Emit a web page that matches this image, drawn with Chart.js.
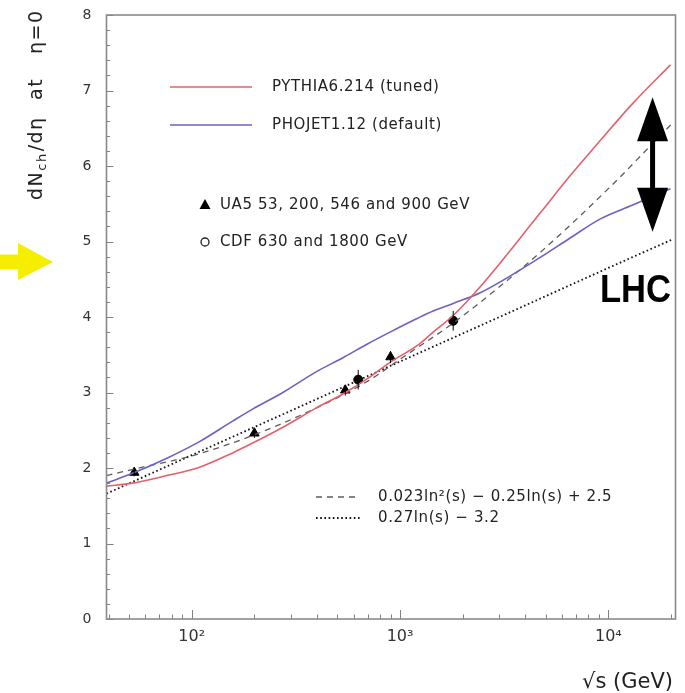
<!DOCTYPE html>
<html>
<head>
<meta charset="utf-8">
<script src="https://cdn.jsdelivr.net/npm/chart.js@4.4.1/dist/chart.umd.min.js"></script>
<style>
  html, body { margin: 0; padding: 0; background: #fff; }
  #wrap { width: 685px; height: 693px; position: relative; }
</style>
</head>
<body>
<div id="wrap"><canvas id="c" width="685" height="693"></canvas></div>
<script>
// Centre-of-mass energies (GeV) at which the generator curves are sampled
const sqrtS = [39, 52, 76, 109, 157, 196, 274, 399, 532, 694, 895, 1207, 1442, 1799, 2425, 4713, 6500, 9155, 13000, 19860];
// dNch/deta at eta = 0 from the two event generators
const pythia = [1.76, 1.80, 1.90, 2.01, 2.20, 2.33, 2.54, 2.80, 2.98, 3.18, 3.40, 3.62, 3.80, 4.02, 4.40, 5.38, 5.86, 6.34, 6.82, 7.34];
const phojet = [1.80, 1.93, 2.13, 2.35, 2.62, 2.78, 3.00, 3.28, 3.46, 3.64, 3.80, 3.98, 4.08, 4.18, 4.32, 4.79, 5.04, 5.30, 5.48, 5.70];

// Empirical fits
const quadFitEnergy = [39, 60, 100, 200, 400, 700, 1000, 1800, 3000, 5000, 10000, 20000];
const quadFit = [1.90, 2.02, 2.16, 2.44, 2.80, 3.15, 3.44, 3.92, 4.40, 4.92, 5.70, 6.55];
const linFitEnergy = [39, 100, 300, 1000, 3000, 10000, 20000];
const linFit = [1.66, 2.17, 2.76, 3.41, 4.00, 4.65, 5.02];

// Measurements
const ua5Energy = [53, 200, 546, 900];
const ua5Mult = [1.94, 2.46, 3.03, 3.47];
const ua5Err = [0.05, 0.06, 0.07, 0.08];
const cdfEnergy = [630, 1800];
const cdfMult = [3.17, 3.95];
const cdfErr = [0.13, 0.13];

// Axes
const xMin = 39, xMax = 21000;
const yMin = 0, yMax = 8;
const xTickValues = [100, 1000, 10000];
const xTickLabels = ['10\u00B2', '10\u00B3', '10\u2074'];

// LHC prediction spread marker (sqrt(s), lower and upper multiplicity)
const lhcEnergy = 16300;
const lhcRange = [5.13, 6.91];
// level pointed at from outside the axis
const pointerLevel = 4.73;

const legendLabels = {
  pythia: 'PYTHIA6.214 (tuned)',
  phojet: 'PHOJET1.12 (default)',
  ua5: 'UA5 53, 200, 546 and 900 GeV',
  cdf: 'CDF 630 and 1800 GeV',
  quad: '0.023ln\u00B2(s) \u2212 0.25ln(s) + 2.5',
  lin: '0.27ln(s) \u2212 3.2'
};

const RED = '#e5606c';
const BLUE = '#6a62c4';
const DASH = '#5c5c5c';
const DOT = '#111111';
const TEXT = '#222222';
const FONT = '"DejaVu Sans", "Liberation Sans", sans-serif';

const toPoints = (xs, ys) => xs.map((x, i) => ({ x: x, y: ys[i] }));

const decor = {
  id: 'decor',
  afterDatasetsDraw(chart) {
    const { ctx, chartArea: a, scales: { x, y } } = chart;
    ctx.save();

    // error bars on the measurements
    ctx.strokeStyle = '#000';
    ctx.lineWidth = 1;
    const bars = (es, ms, errs) => es.forEach((e, i) => {
      const px = x.getPixelForValue(e);
      ctx.beginPath();
      ctx.moveTo(px, y.getPixelForValue(ms[i] - errs[i]));
      ctx.lineTo(px, y.getPixelForValue(ms[i] + errs[i]));
      ctx.stroke();
    });
    bars(ua5Energy, ua5Mult, ua5Err);
    bars(cdfEnergy, cdfMult, cdfErr);

    // inward tick marks
    ctx.strokeStyle = '#808080';
    ctx.lineWidth = 1;
    for (let i = 0; i <= 40; i++) {
      const v = yMin + i * 0.2;
      const py = Math.round(y.getPixelForValue(v)) + 0.5;
      const len = i % 5 === 0 ? 7 : 3.5;
      ctx.beginPath();
      ctx.moveTo(a.left, py);
      ctx.lineTo(a.left + len, py);
      ctx.stroke();
    }
    for (let d = 10; d <= 10000; d *= 10) {
      for (let m = 1; m <= 9; m++) {
        const v = m * d;
        if (v < xMin || v > xMax) continue;
        const px = Math.round(x.getPixelForValue(v)) + 0.5;
        const len = m === 1 ? 9 : 4.5;
        ctx.beginPath();
        ctx.moveTo(px, a.bottom);
        ctx.lineTo(px, a.bottom - len);
        ctx.stroke();
      }
    }

    // frame
    ctx.strokeStyle = '#8a8a8a';
    ctx.lineWidth = 1.6;
    ctx.strokeRect(a.left, a.top, a.right - a.left, a.bottom - a.top);

    // legend
    ctx.font = '15px ' + FONT;
    ctx.fillStyle = TEXT;
    ctx.textBaseline = 'middle';
    ctx.textAlign = 'left';
    if ('letterSpacing' in ctx) ctx.letterSpacing = '0.6px';
    const lineEntry = (y0, color, width, dash, x0, x1, label, tx) => {
      ctx.save();
      ctx.strokeStyle = color;
      ctx.lineWidth = width;
      ctx.setLineDash(dash);
      ctx.beginPath();
      ctx.moveTo(x0, y0);
      ctx.lineTo(x1, y0);
      ctx.stroke();
      ctx.restore();
      ctx.fillText(label, tx, y0);
    };
    lineEntry(87, RED, 1.6, [], 170, 252, legendLabels.pythia, 272);
    lineEntry(125, BLUE, 1.6, [], 170, 252, legendLabels.phojet, 272);

    // triangle and circle keys
    ctx.fillStyle = '#000';
    ctx.beginPath();
    ctx.moveTo(205, 199);
    ctx.lineTo(210.5, 209);
    ctx.lineTo(199.5, 209);
    ctx.closePath();
    ctx.fill();
    ctx.strokeStyle = '#222';
    ctx.lineWidth = 1.3;
    ctx.beginPath();
    ctx.arc(205, 242, 4, 0, Math.PI * 2);
    ctx.stroke();
    ctx.fillStyle = TEXT;
    ctx.fillText(legendLabels.ua5, 220, 205);
    ctx.fillText(legendLabels.cdf, 220, 242);

    lineEntry(497, DASH, 1.3, [6, 5], 316, 360, legendLabels.quad, 378);
    lineEntry(518, DOT, 1.8, [1.6, 2.6], 316, 360, legendLabels.lin, 378);
    if ('letterSpacing' in ctx) ctx.letterSpacing = '0px';

    // LHC double arrow
    const ax = x.getPixelForValue(lhcEnergy);
    const yTop = y.getPixelForValue(lhcRange[1]);
    const yBot = y.getPixelForValue(lhcRange[0]);
    const head = 44, half = 15.5, shaft = 2.5;
    ctx.fillStyle = '#000';
    ctx.beginPath();
    ctx.moveTo(ax, yTop);
    ctx.lineTo(ax + half, yTop + head);
    ctx.lineTo(ax + shaft, yTop + head);
    ctx.lineTo(ax + shaft, yBot - head);
    ctx.lineTo(ax + half, yBot - head);
    ctx.lineTo(ax, yBot);
    ctx.lineTo(ax - half, yBot - head);
    ctx.lineTo(ax - shaft, yBot - head);
    ctx.lineTo(ax - shaft, yTop + head);
    ctx.lineTo(ax - half, yTop + head);
    ctx.closePath();
    ctx.fill();

    // LHC label
    ctx.save();
    ctx.font = 'bold 38px "Liberation Sans", Arial, sans-serif';
    ctx.textBaseline = 'alphabetic';
    ctx.translate(600, 302);
    ctx.scale(0.91, 1);
    ctx.fillText('LHC', 0, 0);
    ctx.restore();

    ctx.restore();
  },
  afterDraw(chart) {
    const { ctx, scales: { y } } = chart;
    ctx.save();

    // yellow pointer outside the axis
    const py = y.getPixelForValue(pointerLevel);
    ctx.fillStyle = '#f6ee00';
    ctx.beginPath();
    ctx.moveTo(0, py - 7.5);
    ctx.lineTo(18, py - 7.5);
    ctx.lineTo(18, py - 19);
    ctx.lineTo(53, py);
    ctx.lineTo(18, py + 18);
    ctx.lineTo(18, py + 7.5);
    ctx.lineTo(0, py + 7.5);
    ctx.closePath();
    ctx.fill();

    // y-axis title, reading upwards
    ctx.fillStyle = TEXT;
    ctx.translate(42, 200);
    ctx.rotate(-Math.PI / 2);
    ctx.textBaseline = 'alphabetic';
    ctx.textAlign = 'left';
    if ('letterSpacing' in ctx) ctx.letterSpacing = '1.5px';
    const big = '19px ' + FONT, small = '13px ' + FONT;
    let cx = 0;
    ctx.font = big;
    ctx.fillText('dN', cx, 0);
    cx += ctx.measureText('dN').width;
    ctx.font = small;
    ctx.fillText('ch', cx, 4);
    cx += ctx.measureText('ch').width + 1;
    ctx.font = big;
    ctx.fillText('/d\u03B7', cx, 0);
    ctx.fillText('at', 100, 0);
    ctx.fillText('\u03B7=0', 146, 0);
    if ('letterSpacing' in ctx) ctx.letterSpacing = '0px';
    ctx.setTransform(1, 0, 0, 1, 0, 0);

    // x-axis title
    ctx.font = '21px ' + FONT;
    ctx.fillStyle = TEXT;
    ctx.textAlign = 'left';
    ctx.textBaseline = 'alphabetic';
    ctx.fillText('\u221As (GeV)', 582, 688);

    ctx.restore();
  }
};

new Chart(document.getElementById('c').getContext('2d'), {
  type: 'line',
  data: {
    datasets: [
      { label: legendLabels.pythia, data: toPoints(sqrtS, pythia), borderColor: RED, borderWidth: 1.6,
        pointRadius: 0, cubicInterpolationMode: 'monotone', fill: false },
      { label: legendLabels.phojet, data: toPoints(sqrtS, phojet), borderColor: BLUE, borderWidth: 1.6,
        pointRadius: 0, cubicInterpolationMode: 'monotone', fill: false },
      { label: legendLabels.quad, data: toPoints(quadFitEnergy, quadFit), borderColor: DASH, borderWidth: 1.3,
        borderDash: [6, 5], pointRadius: 0, cubicInterpolationMode: 'monotone', fill: false },
      { label: legendLabels.lin, data: toPoints(linFitEnergy, linFit), borderColor: DOT, borderWidth: 1.8,
        borderDash: [1.6, 2.6], pointRadius: 0, cubicInterpolationMode: 'monotone', fill: false },
      { label: legendLabels.ua5, data: toPoints(ua5Energy, ua5Mult), showLine: false, pointStyle: 'triangle',
        pointRadius: 5.5, backgroundColor: '#000', borderColor: '#000', borderWidth: 1 },
      { label: legendLabels.cdf, data: toPoints(cdfEnergy, cdfMult), showLine: false, pointStyle: 'circle',
        pointRadius: 4.5, backgroundColor: '#000', borderColor: '#000', borderWidth: 1 }
    ]
  },
  options: {
    responsive: false,
    animation: false,
    devicePixelRatio: 1,
    layout: { padding: { top: 15, right: 9.5, left: 0, bottom: 0 } },
    plugins: { legend: { display: false }, tooltip: { enabled: false } },
    scales: {
      x: {
        type: 'logarithmic',
        min: xMin,
        max: xMax,
        afterFit(s) { s.height = 74; s.paddingLeft = 0; s.paddingRight = 0; },
        afterBuildTicks(s) { s.ticks = xTickValues.map(v => ({ value: v })); },
        ticks: {
          autoSkip: false,
          maxRotation: 0,
          padding: 8,
          color: '#333',
          font: { family: FONT, size: 16 },
          callback: (v) => {
            const i = xTickValues.indexOf(v);
            return i >= 0 ? xTickLabels[i] : '';
          }
        },
        grid: { display: false, drawTicks: false },
        border: { display: false }
      },
      y: {
        min: yMin,
        max: yMax,
        afterFit(s) { s.width = 106.5; s.paddingTop = 0; s.paddingBottom = 0; },
        ticks: { stepSize: 1, padding: 15, color: '#333', font: { family: FONT, size: 14 } },
        grid: { display: false, drawTicks: false },
        border: { display: false }
      }
    }
  },
  plugins: [decor]
});
</script>
</body>
</html>
